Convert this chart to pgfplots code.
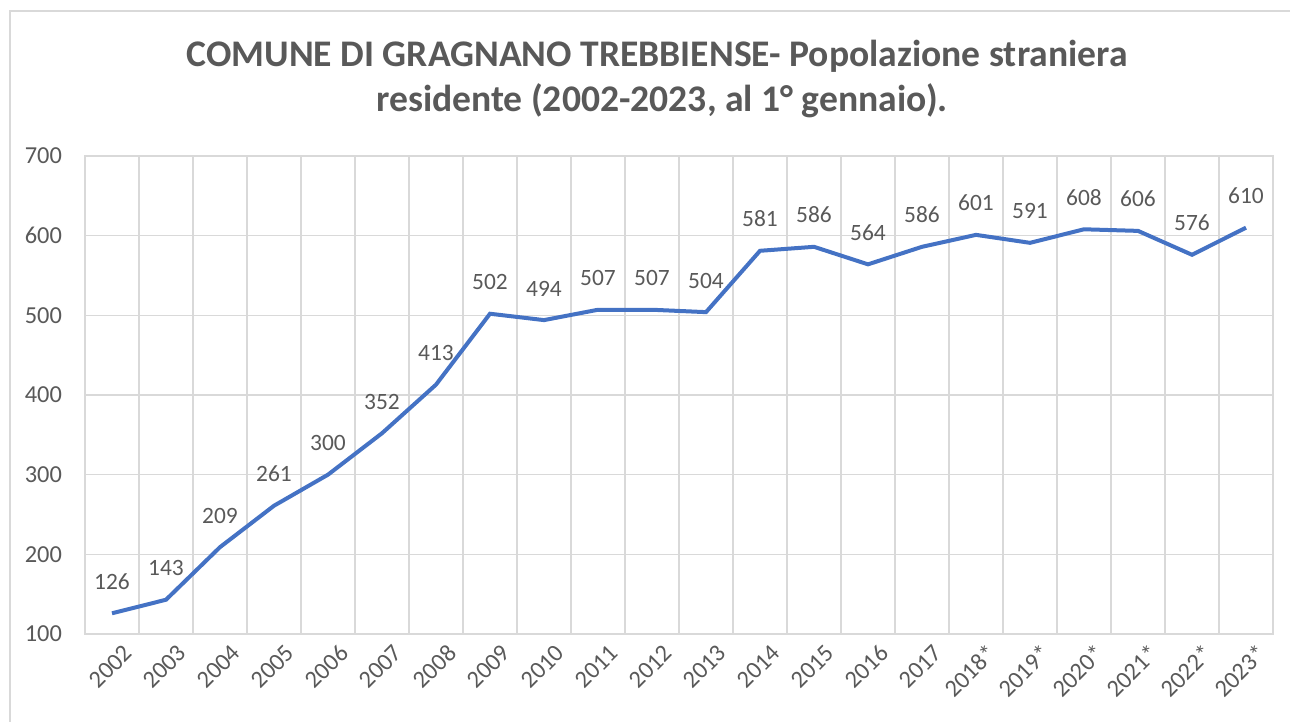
\documentclass[border=0pt]{standalone}
\usepackage{pgfplots}
\pgfplotsset{compat=1.18}
\usepackage{fontspec}
\setmainfont{Carlito}
\definecolor{txt}{HTML}{595959}
\definecolor{grd}{HTML}{D9D9D9}
\definecolor{ln}{HTML}{4472C4}
\begin{document}
\begin{tikzpicture}
\path[use as bounding box] (0,0) rectangle (645pt,361pt);
\draw[grd, line width=0.8pt] (5pt,0) -- (5pt,355.5pt) -- (645pt,355.5pt);
\node[anchor=base, font=\fontsize{18.8}{22}\selectfont\bfseries, text=txt, inner sep=0] at (328.5pt,327.5pt) {COMUNE DI GRAGNANO TREBBIENSE- Popolazione straniera};
\node[anchor=base, font=\fontsize{18.8}{22}\selectfont\bfseries, text=txt, inner sep=0] at (331pt,305pt) {residente (2002-2023, al 1° gennaio).};
\begin{axis}[
  at={(42.5pt,44pt)}, anchor=south west,
  scale only axis, width=594pt, height=239pt,
  xmin=-0.5, xmax=21.5, ymin=100, ymax=700,
  ytick={100,200,...,700},
  xtick={0,...,21},
  xticklabels={2002,2003,2004,2005,2006,2007,2008,2009,2010,2011,2012,2013,2014,2015,2016,2017,2018*,2019*,2020*,2021*,2022*,2023*},
  minor xtick={-0.5,0.5,...,21.5},
  xmajorgrids=false, xminorgrids=true, ymajorgrids=true,
  grid style={grd, line width=0.8pt},
  minor grid style={grd, line width=0.8pt},
  axis line style={grd, line width=0.8pt},
  major tick length=0pt, minor tick length=0pt,
  tick label style={font=\fontsize{12.2}{14}\selectfont, text=txt},
  /pgf/number format/assume math mode=true,
  xticklabel style={rotate=45, anchor=east, inner sep=1pt, xshift=1.5pt, yshift=-11pt},
  yticklabel style={xshift=-8pt},
  nodes near coords,
  every node near coord/.append style={font=\fontsize{11.7}{14}\selectfont, text=txt, anchor=base, inner sep=0pt, yshift=12pt},
  clip=false,
]
\addplot[ln, line width=2pt, mark=none] coordinates {
(0,126) (1,143) (2,209) (3,261) (4,300) (5,352) (6,413) (7,502) (8,494) (9,507) (10,507)
(11,504) (12,581) (13,586) (14,564) (15,586) (16,601) (17,591) (18,608) (19,606) (20,576) (21,610)
};
\end{axis}
\end{tikzpicture}
\end{document}
